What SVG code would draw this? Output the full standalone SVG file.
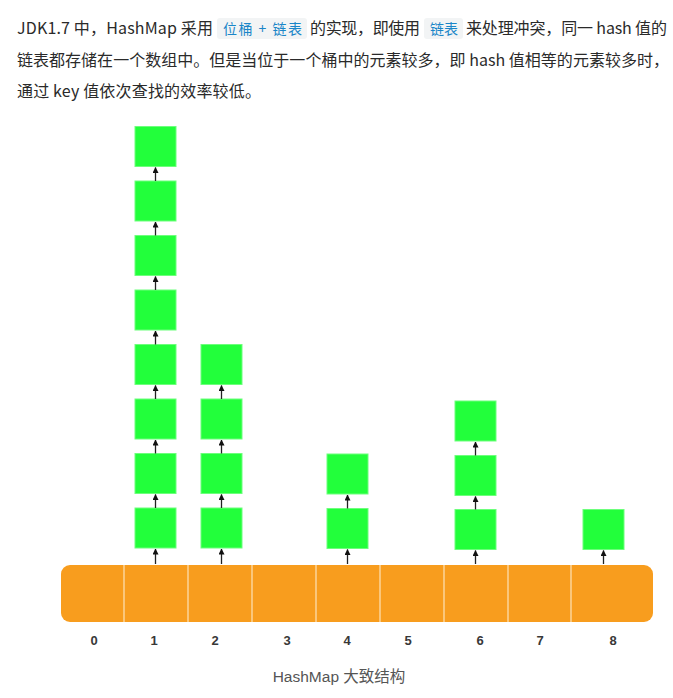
<svg xmlns="http://www.w3.org/2000/svg" width="673" height="698" viewBox="0 0 673 698">
<style>
.t{font-family:"Noto Sans CJK SC","Liberation Sans",sans-serif;font-size:16px;fill:#2a2a2a}
.c{font-family:"Noto Sans CJK SC","Liberation Sans",sans-serif;font-size:14px;fill:#1a86c8}
.chip{fill:#f2f4f5}
.box{fill:#22ff3b;stroke:#6dff7c;stroke-width:1}
.bar{fill:#f89d1e}
.div{stroke:#fde3b8;stroke-width:1.2}
.lbl{font-family:"Liberation Sans","Noto Sans",sans-serif;font-size:13px;fill:#383838;text-anchor:middle;font-weight:bold}
.cap{font-family:"Liberation Sans","Noto Sans CJK SC",sans-serif;font-size:15.5px;fill:#555;text-anchor:middle}
.arr{stroke:#222;stroke-width:1.3;fill:none;marker-end:url(#ah)}
</style>
<defs>
<marker id="ah" markerUnits="userSpaceOnUse" markerWidth="6" markerHeight="6" refX="5.5" refY="3" orient="auto">
<path d="M0,0 L6,3 L0,6 z" fill="#111"/>
</marker>
</defs>
<rect width="673" height="698" fill="#fff"/>
<g id="paragraph">
<text class="t" x="17" y="34" textLength="196" lengthAdjust="spacing">JDK1.7 中，HashMap 采用</text>
<rect class="chip" x="217" y="18" width="90" height="21" rx="3"/>
<text class="c" x="223" y="34" textLength="79" lengthAdjust="spacing">位桶 + 链表</text>
<text class="t" x="310" y="34" textLength="110" lengthAdjust="spacing">的实现，即使用</text>
<rect class="chip" x="424" y="18" width="39" height="21" rx="3"/>
<text class="c" x="430" y="34" textLength="28" lengthAdjust="spacing">链表</text>
<text class="t" x="466" y="34" textLength="201" lengthAdjust="spacing">来处理冲突，同一 hash 值的</text>
<text class="t" x="17" y="65.5" textLength="652" lengthAdjust="spacing">链表都存储在一个数组中。但是当位于一个桶中的元素较多，即 hash 值相等的元素较多时，</text>
<text class="t" x="17" y="97" textLength="244" lengthAdjust="spacing">通过 key 值依次查找的效率较低。</text>
</g>
<g id="array">
<rect class="bar" x="61" y="565" width="592" height="57" rx="9"/>
<line class="div" x1="124" y1="565" x2="124" y2="622"/>
<line class="div" x1="188" y1="565" x2="188" y2="622"/>
<line class="div" x1="252" y1="565" x2="252" y2="622"/>
<line class="div" x1="316" y1="565" x2="316" y2="622"/>
<line class="div" x1="380" y1="565" x2="380" y2="622"/>
<line class="div" x1="444" y1="565" x2="444" y2="622"/>
<line class="div" x1="508" y1="565" x2="508" y2="622"/>
<line class="div" x1="571" y1="565" x2="571" y2="622"/>
</g>
<g id="labels">
<text class="lbl" x="94" y="645">0</text>
<text class="lbl" x="154" y="645">1</text>
<text class="lbl" x="215" y="645">2</text>
<text class="lbl" x="287" y="645">3</text>
<text class="lbl" x="347" y="645">4</text>
<text class="lbl" x="408" y="645">5</text>
<text class="lbl" x="480" y="645">6</text>
<text class="lbl" x="540" y="645">7</text>
<text class="lbl" x="613" y="645">8</text>
</g>
<g id="bucket1">
<rect class="box" x="135" y="126.5" width="41" height="40"/>
<rect class="box" x="135" y="181" width="41" height="40"/>
<rect class="box" x="135" y="235.5" width="41" height="40"/>
<rect class="box" x="135" y="290" width="41" height="40"/>
<rect class="box" x="135" y="344.5" width="41" height="40"/>
<rect class="box" x="135" y="399" width="41" height="40"/>
<rect class="box" x="135" y="453.5" width="41" height="40"/>
<rect class="box" x="135" y="508" width="41" height="40"/>
</g>
<g id="bucket2">
<rect class="box" x="201" y="344.5" width="41" height="40"/>
<rect class="box" x="201" y="399" width="41" height="40"/>
<rect class="box" x="201" y="453.5" width="41" height="40"/>
<rect class="box" x="201" y="508" width="41" height="40"/>
</g>
<g id="bucket4">
<rect class="box" x="327" y="454" width="41" height="40"/>
<rect class="box" x="327" y="508.5" width="41" height="40"/>
</g>
<g id="bucket6">
<rect class="box" x="455" y="401" width="41" height="40"/>
<rect class="box" x="455" y="455.5" width="41" height="40"/>
<rect class="box" x="455" y="509.5" width="41" height="40"/>
</g>
<g id="bucket8">
<rect class="box" x="583" y="509.5" width="41" height="40"/>
</g>
<g id="connectors">
<path class="arr" d="M155.5,564 V549"/>
<path class="arr" d="M155.5,508 V494.5"/>
<path class="arr" d="M155.5,453.5 V440"/>
<path class="arr" d="M155.5,399 V385.5"/>
<path class="arr" d="M155.5,344.5 V331"/>
<path class="arr" d="M155.5,290 V276.5"/>
<path class="arr" d="M155.5,235.5 V222"/>
<path class="arr" d="M155.5,181 V167.5"/>
<path class="arr" d="M221.5,564 V549"/>
<path class="arr" d="M221.5,508 V494.5"/>
<path class="arr" d="M221.5,453.5 V440"/>
<path class="arr" d="M221.5,399 V385.5"/>
<path class="arr" d="M347.5,564 V549.5"/>
<path class="arr" d="M347.5,508.5 V495"/>
<path class="arr" d="M475.5,564 V550.5"/>
<path class="arr" d="M475.5,509.5 V496.5"/>
<path class="arr" d="M475.5,455.5 V442"/>
<path class="arr" d="M603.5,564 V550.5"/>
</g>
<g id="caption">
<text class="cap" x="339" y="682">HashMap 大致结构</text>
</g>
</svg>
